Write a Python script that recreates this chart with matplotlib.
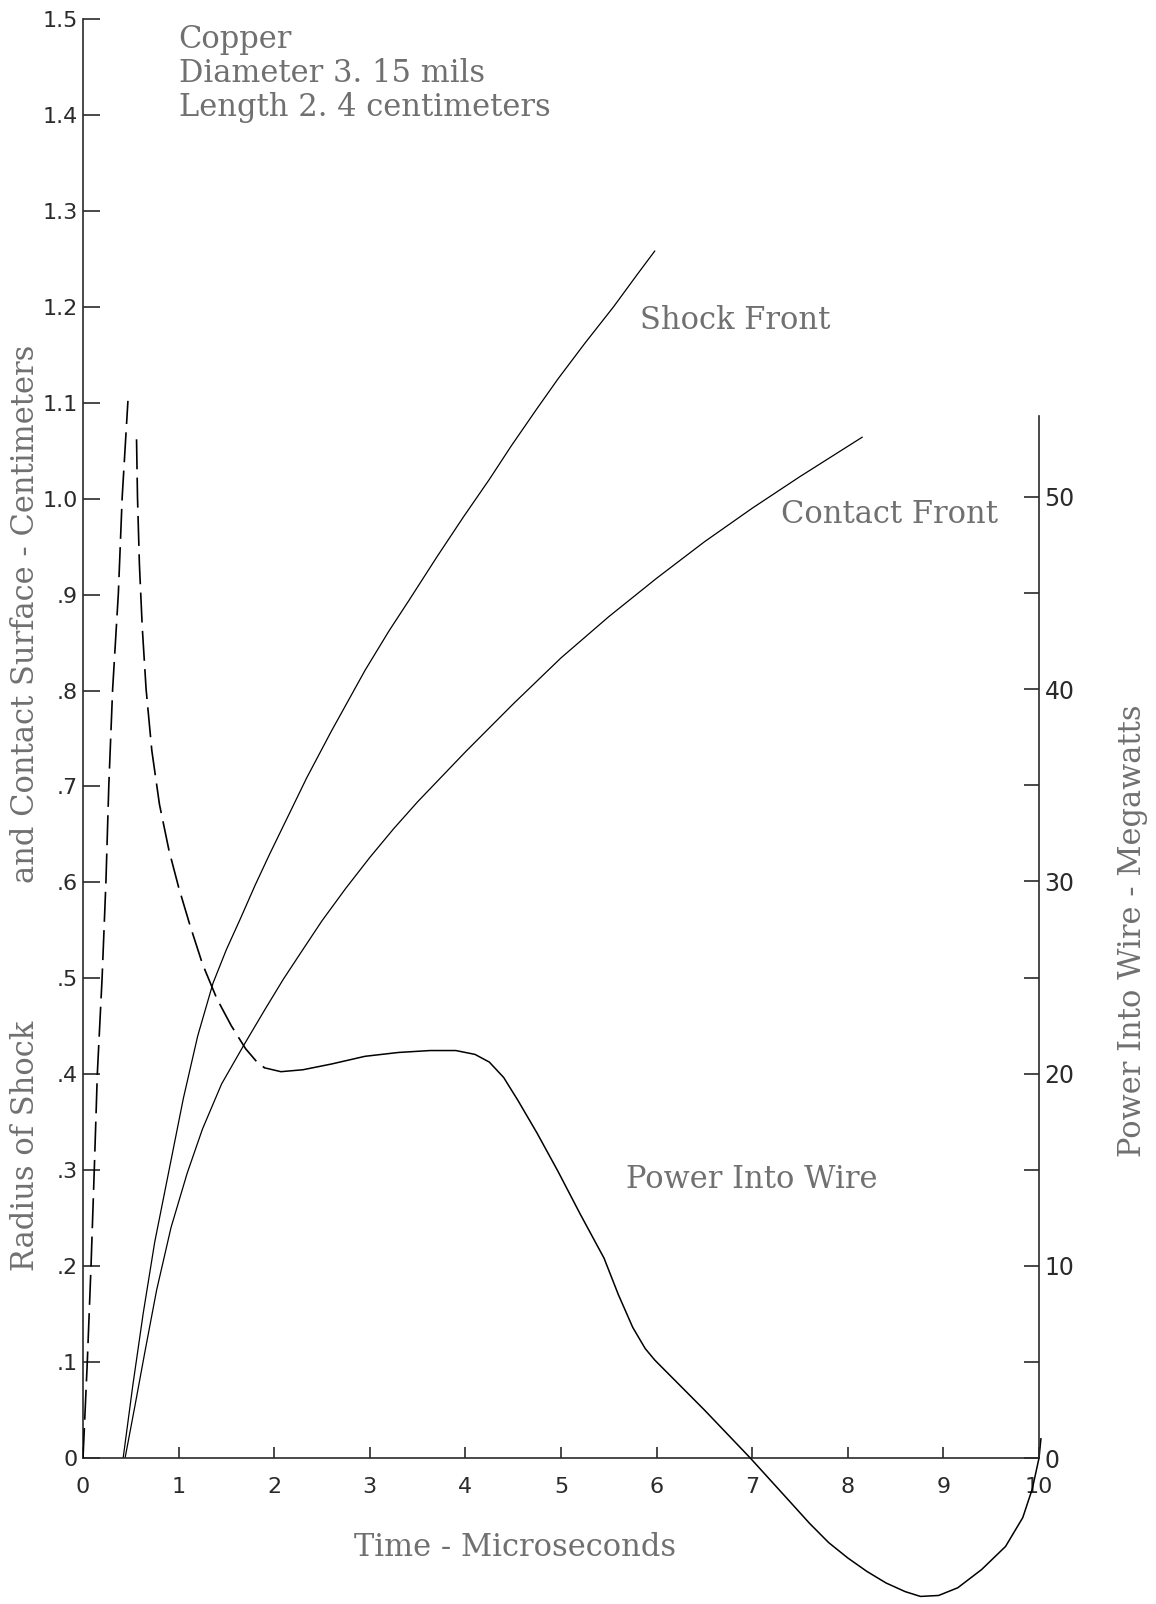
import matplotlib
matplotlib.use("Agg")
import matplotlib.pyplot as plt
from matplotlib.ticker import FixedLocator

# Shock front radius (cm) vs time (microseconds)
shock_t = [0.42, 0.52, 0.63, 0.75, 0.88, 0.97, 1.05, 1.2, 1.36, 1.5, 1.65, 1.8, 1.95,
           2.15, 2.34, 2.6, 2.95, 3.2, 3.41, 3.7, 3.98, 4.25, 4.48, 4.75, 4.97, 5.25,
           5.55, 5.8, 5.98]
shock_r = [0.0, 0.075, 0.151, 0.225, 0.29, 0.335, 0.375, 0.44, 0.495, 0.53, 0.563, 0.597,
           0.629, 0.67, 0.709, 0.758, 0.821, 0.862, 0.894, 0.939, 0.981, 1.02, 1.055,
           1.094, 1.125, 1.162, 1.2, 1.234, 1.258]

# Contact surface radius (cm)
contact_t = [0.44, 0.55, 0.65, 0.77, 0.92, 1.09, 1.25, 1.45, 1.68, 1.9, 2.095, 2.3, 2.5,
             2.75, 3.0, 3.25, 3.5, 3.75, 4.0, 4.5, 5.0, 5.5, 6.0, 6.5, 7.0, 7.5, 8.15]
contact_r = [0.0, 0.058, 0.112, 0.175, 0.24, 0.297, 0.343, 0.39, 0.43, 0.467, 0.499, 0.53,
             0.56, 0.594, 0.626, 0.656, 0.684, 0.71, 0.736, 0.786, 0.834, 0.877, 0.917,
             0.955, 0.99, 1.023, 1.064]

# Power into wire (MW), early dashed portion: rise and decay
rise_t = [0.0, 0.045, 0.084, 0.118, 0.15, 0.20, 0.24, 0.27, 0.31, 0.37, 0.41, 0.47]
rise_mw = [0, 5, 10, 15, 20, 25, 30, 35, 40, 45, 50, 55]
fall_t = [0.56, 0.57, 0.59, 0.62, 0.66, 0.72, 0.80, 0.90, 1.0, 1.12, 1.25, 1.4, 1.55,
          1.7, 1.82, 1.9]
fall_mw = [53.0, 50.0, 46.5, 43.2, 40.0, 36.8, 34.0, 31.6, 29.7, 27.7, 25.7, 23.9, 22.5,
           21.3, 20.6, 20.3]

# Power into wire (MW), solid portion
power_t = [1.9, 2.07, 2.3, 2.6, 2.95, 3.3, 3.63, 3.9, 4.1, 4.25, 4.4, 4.55, 4.75,
           4.97, 5.2, 5.45, 5.6, 5.75, 5.88, 5.98, 6.5, 6.98, 7.4, 7.6, 7.8, 8.0,
           8.2, 8.4, 8.6, 8.76, 8.95, 9.15, 9.4, 9.65, 9.83, 9.93, 10.0, 10.02]
power_mw = [20.3, 20.1, 20.2, 20.5, 20.9, 21.1, 21.2, 21.2, 21.0, 20.6, 19.8, 18.6, 16.9,
            14.9, 12.7, 10.4, 8.5, 6.8, 5.7, 5.1, 2.5, 0.0, -2.3, -3.4, -4.4, -5.2,
            -5.9, -6.5, -6.95, -7.2, -7.15, -6.75, -5.8, -4.6, -3.1, -1.6, 0.0, 1.0]

radius_ticks = [i / 10 for i in range(16)]
radius_labels = ["0", ".1", ".2", ".3", ".4", ".5", ".6", ".7", ".8", ".9",
                 "1.0", "1.1", "1.2", "1.3", "1.4", "1.5"]
power_ticks = [0, 10, 20, 30, 40, 50]
power_minor = [5, 15, 25, 35, 45]
time_ticks = list(range(11))

TEXT = "#707070"
INK = "#2a2a2a"
SERIF = "DejaVu Serif"
FS = 22

fig = plt.figure(figsize=(11.56, 16.04), dpi=100)
ax = fig.add_axes([0.0718, 0.0910, 0.827, 0.8972])
ax2 = ax.twinx()

ax.set_xlim(0, 10)
ax.set_ylim(0, 1.5)
ax2.set_ylim(0, 74.87)

ax.plot(shock_t, shock_r, color="black", lw=0.9)
ax.plot(contact_t, contact_r, color="black", lw=0.9)
dash = (0, (18, 5))
ax2.plot(rise_t, rise_mw, color="black", lw=1.2, ls=dash)
ax2.plot(fall_t, fall_mw, color="black", lw=1.2, ls=dash)
ax2.plot(power_t, power_mw, color="black", lw=1.1, clip_on=False)

# spines
for s in ("top", "right"):
    ax.spines[s].set_visible(False)
for s in ("top", "left", "bottom"):
    ax2.spines[s].set_visible(False)
for sp in (ax.spines["left"], ax.spines["bottom"], ax2.spines["right"]):
    sp.set_color(INK)
    sp.set_linewidth(1.2)
ax2.spines["right"].set_bounds(0, 54.2)

ax.set_xticks(time_ticks)
ax.set_xticklabels([str(t) for t in time_ticks])
ax.set_yticks(radius_ticks)
ax.set_yticklabels(radius_labels)
ax.xaxis.set_tick_params(direction="in", length=8, width=1.2, pad=14,
                         labelsize=16, colors=INK)
ax.yaxis.set_tick_params(direction="in", length=12, width=1.2, pad=4,
                         labelsize=16, colors=INK)

ax2.set_yticks(power_ticks)
ax2.yaxis.set_minor_locator(FixedLocator(power_minor))
ax2.yaxis.set_tick_params(which="both", direction="in", length=11, width=1.2,
                          pad=4, labelsize=17, colors=INK)

# annotations
ax.text(1.0, 1.443, "Copper\nDiameter 3. 15 mils\nLength 2. 4 centimeters",
        family=SERIF, fontsize=FS, color=TEXT, va="center", ha="left",
        linespacing=1.13)
ax.text(6.82, 1.186, "Shock Front", family=SERIF, fontsize=FS, color=TEXT,
        ha="center", va="center")
ax.text(8.44, 0.983, "Contact Front", family=SERIF, fontsize=FS, color=TEXT,
        ha="center", va="center")
ax.text(7.0, 0.29, "Power Into Wire", family=SERIF, fontsize=FS, color=TEXT,
        ha="center", va="center")

# axis titles
fig.text(515 / 1156, 1 - 1548 / 1604, "Time - Microseconds", family=SERIF,
         fontsize=FS, color=TEXT, ha="center", va="center")
fig.text(26 / 1156, 1 - 1146 / 1604, "Radius of Shock", family=SERIF,
         fontsize=FS, color=TEXT, ha="center", va="center", rotation=90)
fig.text(26 / 1156, 1 - 614 / 1604, "and Contact Surface - Centimeters",
         family=SERIF, fontsize=FS, color=TEXT, ha="center", va="center",
         rotation=90)
fig.text(1132 / 1156, 1 - 931 / 1604, "Power Into Wire - Megawatts",
         family=SERIF, fontsize=FS, color=TEXT, ha="center", va="center",
         rotation=90)

fig.savefig("out.png", dpi=100, facecolor="white")
